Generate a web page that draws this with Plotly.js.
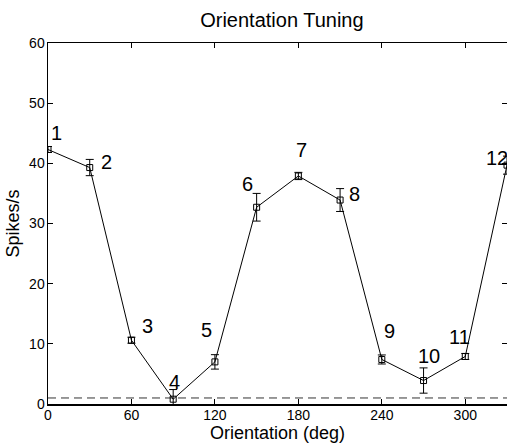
<!DOCTYPE html>
<html><head><meta charset="utf-8">
<script src="https://cdn.plot.ly/plotly-3.0.1.min.js"></script>
<style>html,body{margin:0;padding:0;background:#fff;}#chart{width:507px;height:443px;}</style>
</head><body><div id="chart"></div>
<script>
const orientations = [0, 30, 60, 90, 120, 150, 180, 210, 240, 270, 300, 330];
const spikeRates = [42.3, 39.3, 10.6, 0.8, 7.0, 32.7, 37.9, 33.9, 7.4, 3.9, 7.9, 39.7];
const spikeErrors = [0.5, 1.35, 0.5, 1.6, 1.2, 2.3, 0.6, 1.9, 0.75, 2.1, 0.5, 1.5];
const pointLabels = ['1','2','3','4','5','6','7','8','9','10','11','12'];
const baselineRate = 1.0;
const xTicks = [0, 60, 120, 180, 240, 300];
const yTicks = [0, 10, 20, 30, 40, 50, 60];

// label offsets in pixels (style only)
const labelShiftX = [8, 17, 16, 1, -8, -9, 3, 14, 8, 5, -6, -10];
const labelShiftY = [17, 6, 14, 17, 32, 23, 26, 6, 28, 25, 19, 7];

const font = 'Liberation Sans, Arial, Helvetica, sans-serif';

const traces = [
  {
    x: [orientations[0], orientations[orientations.length - 1]],
    y: [baselineRate, baselineRate],
    mode: 'lines',
    line: {color: '#333', width: 1, dash: '8px,5px'},
    hoverinfo: 'skip',
    showlegend: false
  },
  {
    x: orientations,
    y: spikeRates,
    mode: 'lines+markers',
    line: {color: '#000', width: 1},
    marker: {symbol: 'square-open', size: 6, color: '#000', line: {width: 1, color: '#000'}},
    error_y: {type: 'data', array: spikeErrors, visible: true, color: '#000', thickness: 1, width: 4},
    showlegend: false
  }
];

const annotations = orientations.map((x, i) => ({
  x: x, y: spikeRates[i], xref: 'x', yref: 'y',
  text: pointLabels[i], showarrow: false,
  xshift: labelShiftX[i], yshift: labelShiftY[i],
  font: {family: font, size: 20, color: '#000'}
}));

const layout = {
  width: 507, height: 443,
  margin: {l: 48, r: 0, t: 43, b: 39, pad: 0},
  paper_bgcolor: '#fff', plot_bgcolor: '#fff',
  font: {family: font, color: '#000'},
  title: {text: 'Orientation Tuning', font: {family: font, size: 20, color: '#000'}, x: 0.556, xanchor: 'center', y: 0.955, yanchor: 'middle'},
  xaxis: {
    range: [0, 330], tickvals: xTicks, ticktext: xTicks.map(String),
    ticks: 'inside', ticklen: 5, tickwidth: 1, tickcolor: '#000',
    showline: true, linecolor: '#000', linewidth: 1.5, mirror: 'ticks',
    showgrid: false, zeroline: false,
    tickfont: {family: font, size: 14, color: '#000'},
    ticklabelstandoff: -2,
    title: {text: 'Orientation (deg)', font: {family: font, size: 18, color: '#000'}, standoff: 0}
  },
  yaxis: {
    range: [0, 60], tickvals: yTicks, ticktext: yTicks.map(String),
    ticks: 'inside', ticklen: 5, tickwidth: 1, tickcolor: '#000',
    showline: true, linecolor: '#000', linewidth: 1.5, mirror: 'ticks',
    showgrid: false, zeroline: false,
    tickfont: {family: font, size: 14, color: '#000'},
    ticklabelstandoff: -1,
    title: {text: 'Spikes/s', font: {family: font, size: 18, color: '#000'}, standoff: 5}
  },
  annotations: annotations
};

Plotly.newPlot('chart', traces, layout, {displayModeBar: false, staticPlot: true});
</script></body></html>
